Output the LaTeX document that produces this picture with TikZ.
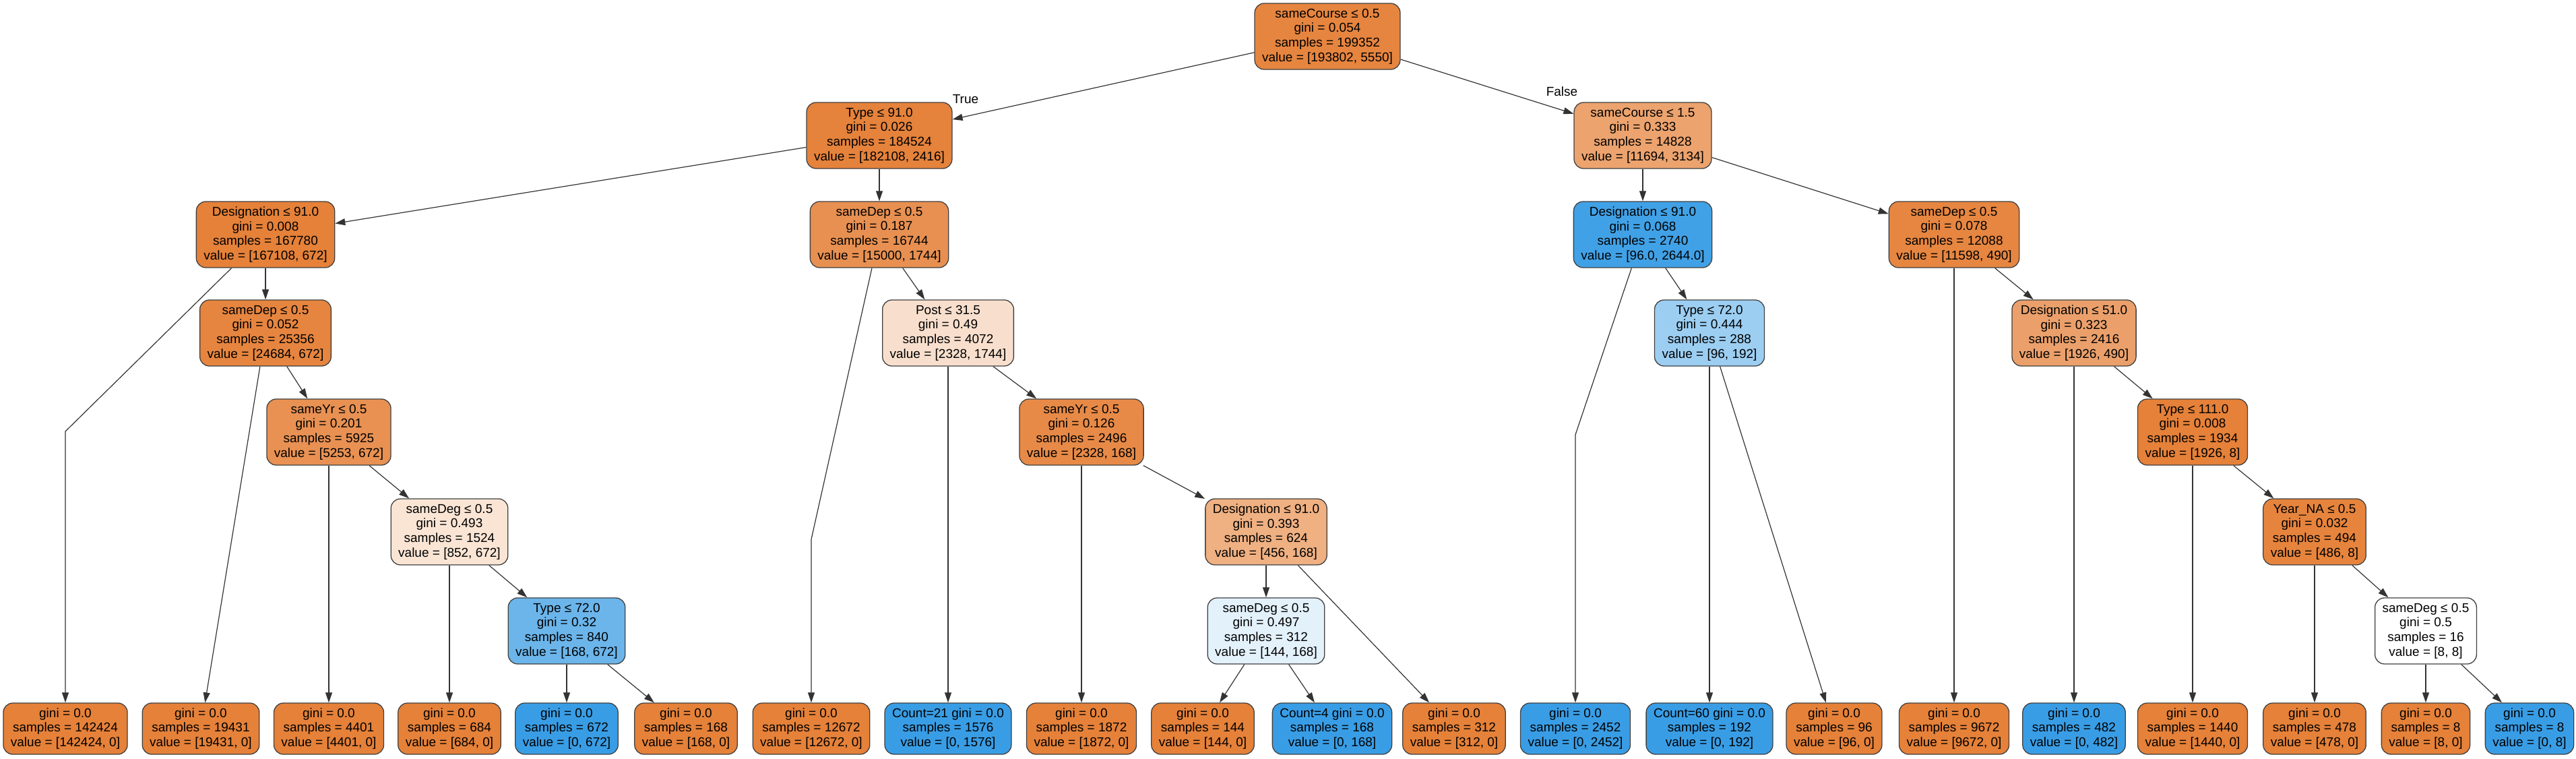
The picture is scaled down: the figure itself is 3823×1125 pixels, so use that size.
\documentclass[tikz,border=0pt]{standalone}
\usepackage{fontspec}
\setmainfont{Liberation Sans}
\usetikzlibrary{arrows.meta}

\definecolor{clsA}{RGB}{229,129,57}
\definecolor{clsB}{RGB}{57,157,229}

\begin{document}
\begin{tikzpicture}[x=1pt, y=-1pt,
  splitbox/.style={draw=black!75, line width=1.3pt, rounded corners=14pt, fill=#1,
    align=center, inner xsep=11pt, inner ysep=4pt, minimum height=98pt,
    font=\fontsize{19}{21.7}\selectfont},
  leafbox/.style={splitbox=#1, minimum height=76pt},
  treeedge/.style={-{Triangle[length=15pt, width=10pt]}, line width=1.2pt, draw=black!80},
  sidelbl/.style={font=\fontsize{19}{21.7}\selectfont, inner sep=0pt}]

\useasboundingbox (0,0) rectangle (3823,1125);

% Split nodes
\node[splitbox=clsA!97] (root) at (1970,54) {sameCourse ≤ 0.5\\gini = 0.054\\samples = 199352\\value = [193802, 5550]};
\node[splitbox=clsA!99] (s1) at (1305,201) {Type ≤ 91.0\\gini = 0.026\\samples = 184524\\value = [182108, 2416]};
\node[splitbox=clsA!73] (s2) at (2438,201) {sameCourse ≤ 1.5\\gini = 0.333\\samples = 14828\\value = [11694, 3134]};
\node[splitbox=clsA] (s3) at (394,348) {Designation ≤ 91.0\\gini = 0.008\\samples = 167780\\value = [167108, 672]};
\node[splitbox=clsA!88] (s4) at (1305,348) {sameDep ≤ 0.5\\gini = 0.187\\samples = 16744\\value = [15000, 1744]};
\node[splitbox=clsB!96] (s5) at (2438,348) {Designation ≤ 91.0\\gini = 0.068\\samples = 2740\\value = [96.0, 2644.0]};
\node[splitbox=clsA!96] (s6) at (2900,348) {sameDep ≤ 0.5\\gini = 0.078\\samples = 12088\\value = [11598, 490]};
\node[splitbox=clsA!97] (s7) at (394,494) {sameDep ≤ 0.5\\gini = 0.052\\samples = 25356\\value = [24684, 672]};
\node[splitbox=clsA!25] (s8) at (1407,494) {Post ≤ 31.5\\gini = 0.49\\samples = 4072\\value = [2328, 1744]};
\node[splitbox=clsB!50] (s9) at (2537,494) {Type ≤ 72.0\\gini = 0.444\\samples = 288\\value = [96, 192]};
\node[splitbox=clsA!75] (s10) at (3078,494) {Designation ≤ 51.0\\gini = 0.323\\samples = 2416\\value = [1926, 490]};
\node[splitbox=clsA!87] (s11) at (488,641) {sameYr ≤ 0.5\\gini = 0.201\\samples = 5925\\value = [5253, 672]};
\node[splitbox=clsA!93] (s12) at (1605,641) {sameYr ≤ 0.5\\gini = 0.126\\samples = 2496\\value = [2328, 168]};
\node[splitbox=clsA] (s13) at (3254,641) {Type ≤ 111.0\\gini = 0.008\\samples = 1934\\value = [1926, 8]};
\node[splitbox=clsA!21] (s14) at (667,789) {sameDeg ≤ 0.5\\gini = 0.493\\samples = 1524\\value = [852, 672]};
\node[splitbox=clsA!63] (s15) at (1879,789) {Designation ≤ 91.0\\gini = 0.393\\samples = 624\\value = [456, 168]};
\node[splitbox=clsA!98] (s16) at (3435,789) {Year\_NA ≤ 0.5\\gini = 0.032\\samples = 494\\value = [486, 8]};
\node[splitbox=clsB!75] (s17) at (841,936) {Type ≤ 72.0\\gini = 0.32\\samples = 840\\value = [168, 672]};
\node[splitbox=clsB!14] (s18) at (1879,936) {sameDeg ≤ 0.5\\gini = 0.497\\samples = 312\\value = [144, 168]};
\node[splitbox=white] (s19) at (3600,936) {sameDeg ≤ 0.5\\gini = 0.5\\samples = 16\\value = [8, 8]};

% Leaves
\node[leafbox=clsA] (leaf1) at (97,1081) {gini = 0.0\\samples = 142424\\value = [142424, 0]};
\node[leafbox=clsA] (leaf2) at (298,1081) {gini = 0.0\\samples = 19431\\value = [19431, 0]};
\node[leafbox=clsA] (leaf3) at (488,1081) {gini = 0.0\\samples = 4401\\value = [4401, 0]};
\node[leafbox=clsA] (leaf4) at (667,1081) {gini = 0.0\\samples = 684\\value = [684, 0]};
\node[leafbox=clsB] (leaf5) at (841,1081) {gini = 0.0\\samples = 672\\value = [0, 672]};
\node[leafbox=clsA] (leaf6) at (1018,1081) {gini = 0.0\\samples = 168\\value = [168, 0]};
\node[leafbox=clsA] (leaf7) at (1204,1081) {gini = 0.0\\samples = 12672\\value = [12672, 0]};
\node[leafbox=clsB] (leaf8) at (1407,1081) {Count=21 gini = 0.0\\samples = 1576\\value = [0, 1576]};
\node[leafbox=clsA] (leaf9) at (1605,1081) {gini = 0.0\\samples = 1872\\value = [1872, 0]};
\node[leafbox=clsA] (leaf10) at (1785,1081) {gini = 0.0\\samples = 144\\value = [144, 0]};
\node[leafbox=clsB] (leaf11) at (1977,1081) {Count=4 gini = 0.0\\samples = 168\\value = [0, 168]};
\node[leafbox=clsA] (leaf12) at (2158,1081) {gini = 0.0\\samples = 312\\value = [312, 0]};
\node[leafbox=clsB] (leaf13) at (2338,1081) {gini = 0.0\\samples = 2452\\value = [0, 2452]};
\node[leafbox=clsB] (leaf14) at (2537,1081) {Count=60 gini = 0.0\\samples = 192\\value = [0, 192]};
\node[leafbox=clsA] (leaf15) at (2722,1081) {gini = 0.0\\samples = 96\\value = [96, 0]};
\node[leafbox=clsA] (leaf16) at (2900,1081) {gini = 0.0\\samples = 9672\\value = [9672, 0]};
\node[leafbox=clsB] (leaf17) at (3078,1081) {gini = 0.0\\samples = 482\\value = [0, 482]};
\node[leafbox=clsA] (leaf18) at (3254,1081) {gini = 0.0\\samples = 1440\\value = [1440, 0]};
\node[leafbox=clsA] (leaf19) at (3435,1081) {gini = 0.0\\samples = 478\\value = [478, 0]};
\node[leafbox=clsA] (leaf20) at (3600,1081) {gini = 0.0\\samples = 8\\value = [8, 0]};
\node[leafbox=clsB] (leaf21) at (3754,1081) {gini = 0.0\\samples = 8\\value = [0, 8]};

% Bends of the long edges
\coordinate (bend1) at (97,640);
\coordinate (bend2) at (1204,800);
\coordinate (bend3) at (2338,645);

% Edges
\draw[treeedge] (root) -- (s1);
\draw[treeedge] (root) -- (s2);
\draw[treeedge] (s1) -- (s3);
\draw[treeedge] (s1) -- (s4);
\draw[treeedge] (s3) -- (bend1) -- (leaf1);
\draw[treeedge] (s3) -- (s7);
\draw[treeedge] (s7) -- (leaf2);
\draw[treeedge] (s7) -- (s11);
\draw[treeedge] (s11) -- (leaf3);
\draw[treeedge] (s11) -- (s14);
\draw[treeedge] (s14) -- (leaf4);
\draw[treeedge] (s14) -- (s17);
\draw[treeedge] (s17) -- (leaf5);
\draw[treeedge] (s17) -- (leaf6);
\draw[treeedge] (s4) -- (bend2) -- (leaf7);
\draw[treeedge] (s4) -- (s8);
\draw[treeedge] (s8) -- (leaf8);
\draw[treeedge] (s8) -- (s12);
\draw[treeedge] (s12) -- (leaf9);
\draw[treeedge] (s12) -- (s15);
\draw[treeedge] (s15) -- (s18);
\draw[treeedge] (s15) -- (leaf12);
\draw[treeedge] (s18) -- (leaf10);
\draw[treeedge] (s18) -- (leaf11);
\draw[treeedge] (s2) -- (s5);
\draw[treeedge] (s2) -- (s6);
\draw[treeedge] (s5) -- (bend3) -- (leaf13);
\draw[treeedge] (s5) -- (s9);
\draw[treeedge] (s9) -- (leaf14);
\draw[treeedge] (s9) -- (leaf15);
\draw[treeedge] (s6) -- (leaf16);
\draw[treeedge] (s6) -- (s10);
\draw[treeedge] (s10) -- (leaf17);
\draw[treeedge] (s10) -- (s13);
\draw[treeedge] (s13) -- (leaf18);
\draw[treeedge] (s13) -- (s16);
\draw[treeedge] (s16) -- (leaf19);
\draw[treeedge] (s16) -- (s19);
\draw[treeedge] (s19) -- (leaf20);
\draw[treeedge] (s19) -- (leaf21);

% Branch labels
\node[sidelbl] (truelbl) at (1433,147) {True};
\node[sidelbl] (falselbl) at (2318,136) {False};

\end{tikzpicture}
\end{document}
